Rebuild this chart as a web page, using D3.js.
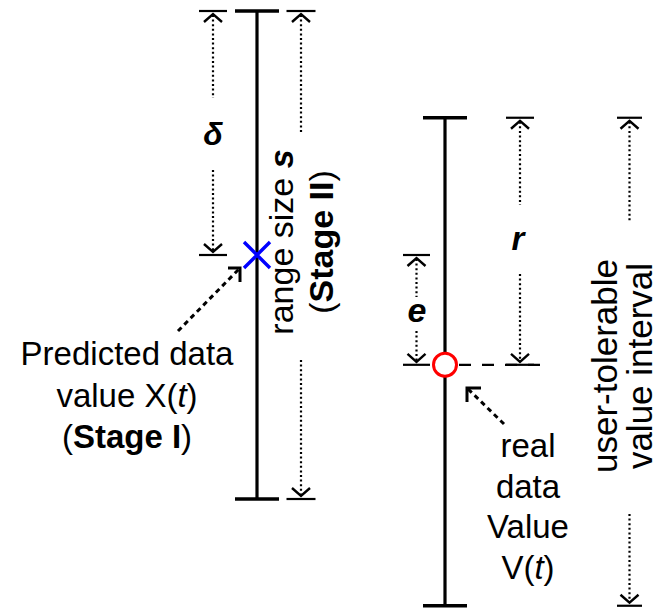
<!DOCTYPE html>
<html>
<head>
<meta charset="utf-8">
<script src="https://cdn.jsdelivr.net/npm/d3@7"></script>
<style>
  html, body { margin: 0; padding: 0; background: #fff; }
  svg { display: block; }
  text { font-family: "Liberation Sans", Arial, Helvetica, sans-serif; fill: #000; }
</style>
</head>
<body>
<svg id="chart" width="661" height="612"></svg>
<script>
// ---- values (value units) ----
const predictedValue = 10;               // X(t), Stage I
const stageTwoRange = [6, 14];           // range of size s, Stage II
const realValue = 8.2;                   // V(t)
const tolerableInterval = [4.25, 12.25]; // user-tolerable value interval

// ---- text ----
const predictedLines = [
  [{t: "Predicted data"}],
  [{t: "value X("}, {t: "t", i: true}, {t: ")"}],
  [{t: "("}, {t: "Stage I", b: true}, {t: ")"}]
];
const realLines = [
  [{t: "real"}],
  [{t: "data"}],
  [{t: "Value"}],
  [{t: "V("}, {t: "t", i: true}, {t: ")"}]
];
const rangeLines = [
  [{t: "range size "}, {t: "s", b: true, i: true}],
  [{t: "("}, {t: "Stage II", b: true}, {t: ")"}]
];
const tolerableLines = [
  [{t: "user-tolerable"}],
  [{t: "value interval"}]
];

// ---- layout ----
const svg = d3.select("#chart");
const y = d3.scaleLinear().domain([14, 6]).range([11, 499]);
const col = d3.scaleOrdinal()
  .domain(["delta", "leftBar", "sDim", "eDim", "rightBar", "rDim", "tolDim"])
  .range([213, 257, 301, 416.5, 445, 520, 629.5]);

// dimension arrows: tick at each end, dotted shaft interrupted by its label
const dims = [
  {c: "delta", lo: predictedValue, hi: stageTwoRange[1], gap: [98, 170], half: 14},
  {c: "sDim", lo: stageTwoRange[0], hi: stageTwoRange[1], gap: [133, 360], half: 14.5},
  {c: "eDim", lo: realValue, hi: predictedValue, gap: [297, 331], half: 13.5},
  {c: "rDim", lo: realValue, hi: tolerableInterval[1], gap: [205, 274], half: 14},
  {c: "tolDim", lo: tolerableInterval[0], hi: tolerableInterval[1], gap: [223, 514], half: 12.5}
];

const dimG = svg.append("g").attr("fill", "none").attr("stroke", "#000");
dims.forEach(d => {
  const x = col(d.c), yt = y(d.hi), yb = y(d.lo);
  const g = dimG.append("g");
  // end ticks
  [yt, yb].forEach(yy => g.append("line")
    .attr("x1", x - d.half).attr("x2", x + d.half)
    .attr("y1", yy).attr("y2", yy)
    .attr("stroke-width", 2.2));
  // arrowheads
  g.append("path").attr("d", `M${x - 9},${yt + 11}L${x},${yt + 3}L${x + 9},${yt + 11}`)
    .attr("stroke-width", 2.4).attr("stroke-linejoin", "miter");
  g.append("path").attr("d", `M${x - 9},${yb - 11}L${x},${yb - 3}L${x + 9},${yb - 11}`)
    .attr("stroke-width", 2.4).attr("stroke-linejoin", "miter");
  // dotted shafts
  [[yt + 4, d.gap[0]], [d.gap[1], yb - 4]].forEach(([a, b]) => g.append("line")
    .attr("x1", x).attr("x2", x).attr("y1", a).attr("y2", b)
    .attr("stroke-width", 2.2).attr("stroke-dasharray", "2,2.6"));
});

// value ranges (solid bars with caps)
const bars = [
  {c: "leftBar", lo: stageTwoRange[0], hi: stageTwoRange[1]},
  {c: "rightBar", lo: tolerableInterval[0], hi: tolerableInterval[1]}
];
const barG = svg.append("g").attr("stroke", "#000");
bars.forEach(b => {
  const x = col(b.c);
  barG.append("line").attr("x1", x).attr("x2", x)
    .attr("y1", y(b.hi)).attr("y2", y(b.lo)).attr("stroke-width", 3.2);
  [y(b.hi), y(b.lo)].forEach(yy => barG.append("line")
    .attr("x1", x - 22).attr("x2", x + 22).attr("y1", yy).attr("y2", yy)
    .attr("stroke-width", 3.6));
});

// dashed level line through the real value
const yReal = y(realValue);
svg.append("line")
  .attr("x1", col("rightBar") + 14).attr("x2", 548)
  .attr("y1", yReal).attr("y2", yReal)
  .attr("stroke", "#000").attr("stroke-width", 2.2).attr("stroke-dasharray", "12,11");

// predicted value marker (blue cross)
const xp = col("leftBar"), yp = y(predictedValue);
svg.append("path")
  .attr("d", `M${xp - 13},${yp - 13}L${xp + 13},${yp + 13}M${xp - 13},${yp + 13}L${xp + 13},${yp - 13}`)
  .attr("stroke", "#0000ff").attr("stroke-width", 3.4).attr("fill", "none");

// real value marker (red circle)
svg.append("circle")
  .attr("cx", col("rightBar")).attr("cy", yReal).attr("r", 11.5)
  .attr("fill", "#fff").attr("stroke", "#ff0000").attr("stroke-width", 3);

// dashed pointer arrows
function pointer(x0, y0, x1, y1, dx, dy) {
  const g = svg.append("g").attr("stroke", "#000").attr("fill", "none");
  g.append("line").attr("x1", x0).attr("y1", y0).attr("x2", x1).attr("y2", y1)
    .attr("stroke-width", 3).attr("stroke-dasharray", "5,4");
  g.append("path").attr("d", `M${x1 + dx},${y1}L${x1},${y1}L${x1},${y1 + dy}`)
    .attr("stroke-width", 3).attr("stroke-linejoin", "miter");
}
pointer(178, 331, 240, 268, -12, 14);
pointer(504, 424, 467, 388, 14, 14);

// ---- labels ----
function writeLine(sel, parts) {
  parts.forEach(p => sel.append("tspan")
    .attr("font-weight", p.b ? "bold" : null)
    .attr("font-style", p.i ? "italic" : null)
    .text(p.t));
}
function block(lines, x, y0, step, size) {
  lines.forEach((ln, i) => {
    const t = svg.append("text").attr("x", x).attr("y", y0 + i * step)
      .attr("text-anchor", "middle").attr("font-size", size);
    writeLine(t, ln);
  });
}
block(predictedLines, 127, 365, 41.5, 33);
block(realLines, 528, 457, 40.5, 33);

function rotated(lines, xs, yc, size) {
  lines.forEach((ln, i) => {
    const t = svg.append("text")
      .attr("transform", `translate(${xs[i]},${yc}) rotate(-90)`)
      .attr("text-anchor", "middle").attr("font-size", size);
    writeLine(t, ln);
  });
}
rotated(rangeLines, [293, 333], 242, 34);
rotated(tolerableLines, [617, 652], 366, 35);

// dimension symbols
const symbolLabels = [
  {s: "δ", x: col("delta"), y: 145, size: 32},
  {s: "e", x: col("eDim") + 0.5, y: 322, size: 34},
  {s: "r", x: col("rDim") - 2, y: 250, size: 33}
];
svg.selectAll("text.sym").data(symbolLabels).join("text")
  .attr("class", "sym")
  .attr("x", d => d.x).attr("y", d => d.y)
  .attr("text-anchor", "middle")
  .attr("font-size", d => d.size)
  .attr("font-weight", "bold").attr("font-style", "italic")
  .text(d => d.s);
</script>
</body>
</html>
